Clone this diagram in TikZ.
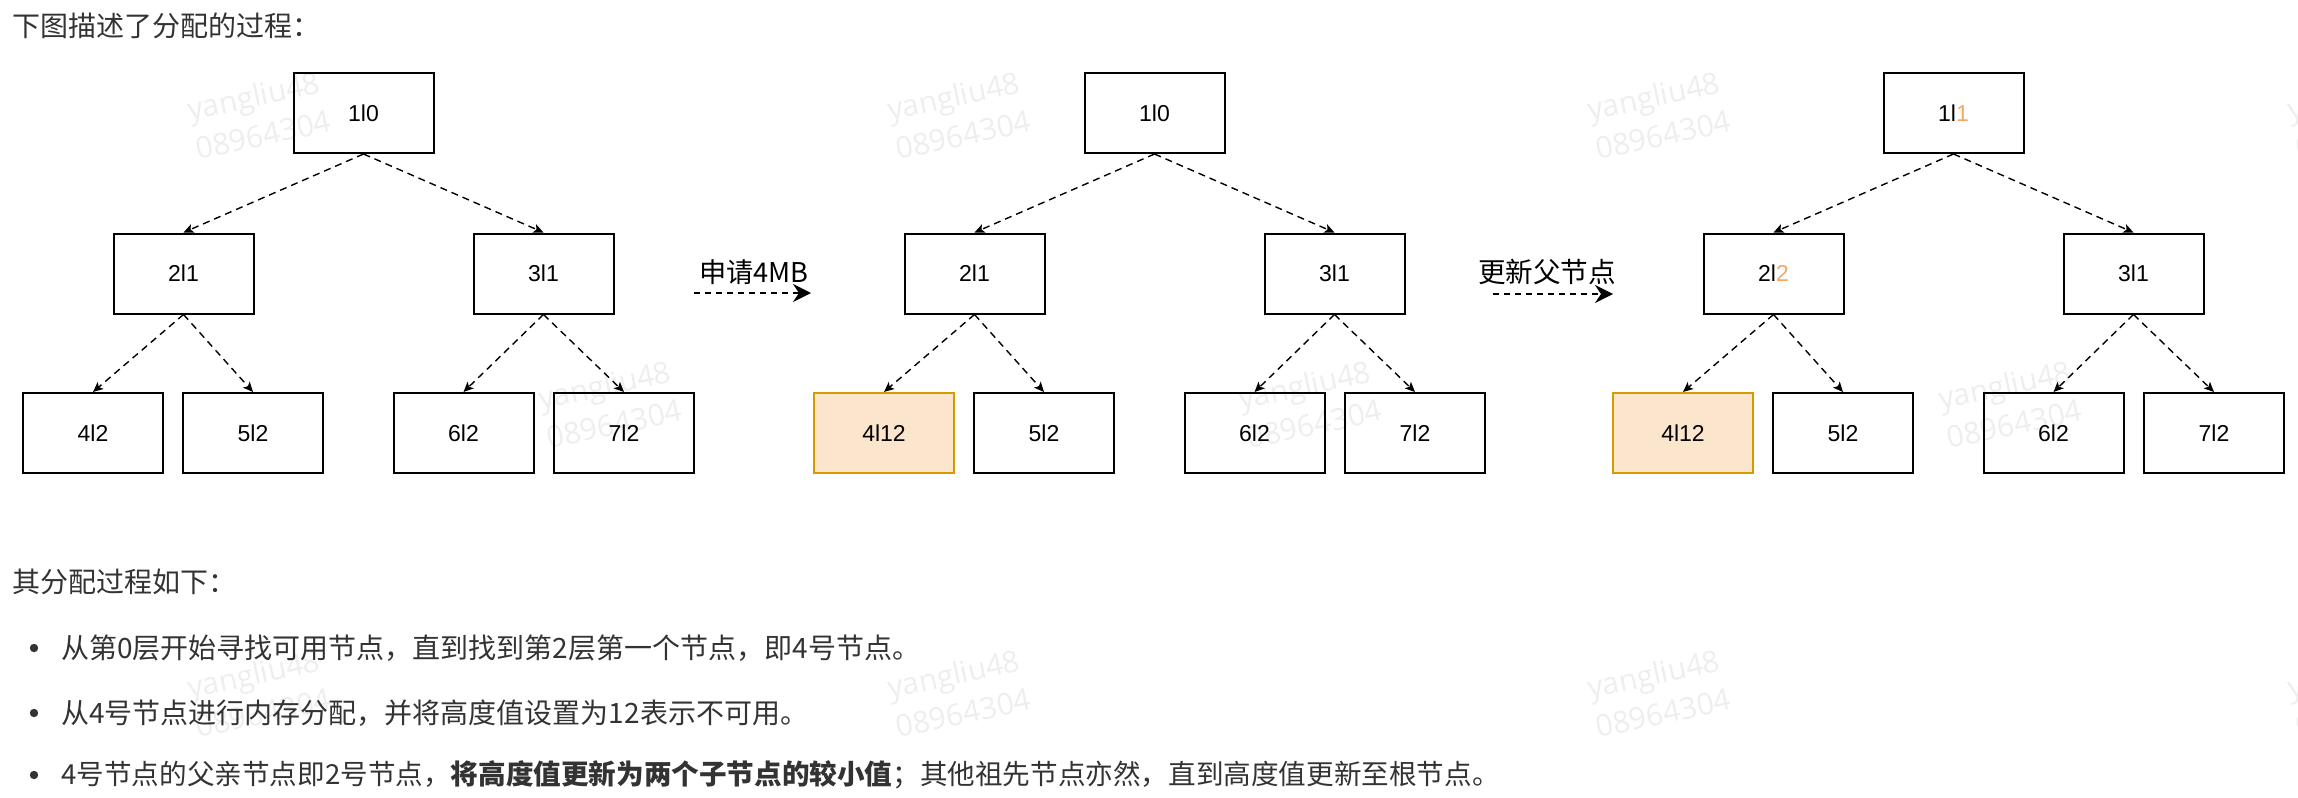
\documentclass[tikz,border=0pt]{standalone}
\usepackage{fontspec}
\setmainfont{Noto Sans CJK SC}
\newfontfamily\boxfont{Liberation Sans}
\newfontfamily\markfont{Open Sans}
\usetikzlibrary{arrows.meta}
\definecolor{usedfill}{HTML}{FBE5CD}
\definecolor{usedline}{HTML}{D79B00}
\definecolor{newval}{HTML}{F5A862}
\definecolor{textgray}{HTML}{333333}

\begin{document}
\begin{tikzpicture}[x=0.5pt,y=-0.5pt,
	box/.style={draw, line width=1pt, minimum width=70pt, minimum height=40pt, inner sep=0pt, font=\boxfont\fontsize{11.5}{14}\selectfont},
	used/.style={box, draw=usedline, fill=usedfill},
	link/.style={line width=0.7pt, dash pattern=on 3.5pt off 2.5pt, -{Stealth[length=5pt,width=4.5pt,inset=1.2pt]}},
	stagearrow/.style={line width=0.9pt, dash pattern=on 3pt off 2.5pt, -{Stealth[length=9pt,width=9pt,inset=3pt]}},
	txt/.style={anchor=west, inner sep=0pt, text=textgray, font=\fontsize{14}{17}\selectfont},
	watermark/.style={inner sep=0pt, align=left, rotate=12, text=black, text opacity=0.065, font=\markfont\fontsize{15}{20}\selectfont}]
	
	\useasboundingbox (0,0) rectangle (2298,798);
	
	\node[txt] (title) at (12,26) {下图描述了分配的过程：};
	
	%------------------------------
	% Tree before the request
	%------------------------------
	\begin{scope}[shift={(0,0)}]
		\node[box] (t1n1) at (363.5,113) {1l0};
		\node[box] (t1n2) at (183.5,273.5) {2l1};
		\node[box] (t1n3) at (543.5,273.5) {3l1};
		\node[box] (t1n4) at (93,433) {4l2};
		\node[box] (t1n5) at (253,433) {5l2};
		\node[box] (t1n6) at (463.5,433) {6l2};
		\node[box] (t1n7) at (624,433) {7l2};
		\foreach \p/\c in {1/2,1/3,2/4,2/5,3/6,3/7}
		\draw[link] (t1n\p.south) -- (t1n\c.north);
	\end{scope}
	
	% Request 4MB
	\coordinate (go1) at (694,293);
	\coordinate (to1) at (811,293);
	\node[inner sep=0pt, font=\fontsize{13.6}{16}\selectfont] (ask) at (754,272) {申请4MB};
	\draw[stagearrow] (go1) -- (to1);
	
	%------------------------------
	% Tree after allocating node 4
	%------------------------------
	\begin{scope}[shift={(791,0)}]
		\node[box] (t2n1) at (363.5,113) {1l0};
		\node[box] (t2n2) at (183.5,273.5) {2l1};
		\node[box] (t2n3) at (543.5,273.5) {3l1};
		\node[used] (t2n4) at (93,433) {4l12};
		\node[box] (t2n5) at (253,433) {5l2};
		\node[box] (t2n6) at (463.5,433) {6l2};
		\node[box] (t2n7) at (624,433) {7l2};
		\foreach \p/\c in {1/2,1/3,2/4,2/5,3/6,3/7}
		\draw[link] (t2n\p.south) -- (t2n\c.north);
	\end{scope}
	
	% Update the parents
	\coordinate (go2) at (1493,294);
	\coordinate (to2) at (1613,294);
	\node[inner sep=0pt, font=\fontsize{13.8}{16}\selectfont] (upd) at (1547,272) {更新父节点};
	\draw[stagearrow] (go2) -- (to2);
	
	%------------------------------
	% Tree after updating the heights
	%------------------------------
	\begin{scope}[shift={(1590,0)}]
		\node[box] (t3n1) at (363.5,113) {1l\textcolor{newval}{1}};
		\node[box] (t3n2) at (183.5,273.5) {2l\textcolor{newval}{2}};
		\node[box] (t3n3) at (543.5,273.5) {3l1};
		\node[used] (t3n4) at (93,433) {4l12};
		\node[box] (t3n5) at (253,433) {5l2};
		\node[box] (t3n6) at (463.5,433) {6l2};
		\node[box] (t3n7) at (624,433) {7l2};
		\foreach \p/\c in {1/2,1/3,2/4,2/5,3/6,3/7}
		\draw[link] (t3n\p.south) -- (t3n\c.north);
	\end{scope}
	
	%------------------------------
	% Steps
	%------------------------------
	\node[txt] (steps) at (12,582) {其分配过程如下：};
	\fill[textgray] (34,648) circle (4.2);
	\node[txt] (step1) at (61,648) {从第0层开始寻找可用节点，直到找到第2层第一个节点，即4号节点。};
	\fill[textgray] (34,713) circle (4.2);
	\node[txt] (step2) at (61,713) {从4号节点进行内存分配，并将高度值设置为12表示不可用。};
	\fill[textgray] (34,775) circle (4.2);
	\node[txt, font=\fontsize{13.8}{17}\selectfont] (step3) at (61,775) {4号节点的父亲节点即2号节点，\textbf{将高度值更新为两个子节点的较小值}；其他祖先节点亦然，直到高度值更新至根节点。};
	
	% Watermarks
	\foreach \i in {0,...,3}
	\node[watermark] (wmA\i) at (259+700*\i,115) {yangliu48\\08964304};
	\foreach \i in {1,...,3}
	\node[watermark] (wmB\i) at (-90+700*\i,404) {yangliu48\\08964304};
	\foreach \i in {0,...,3}
	\node[watermark] (wmC\i) at (259+700*\i,693) {yangliu48\\08964304};
	
\end{tikzpicture}
\end{document}
